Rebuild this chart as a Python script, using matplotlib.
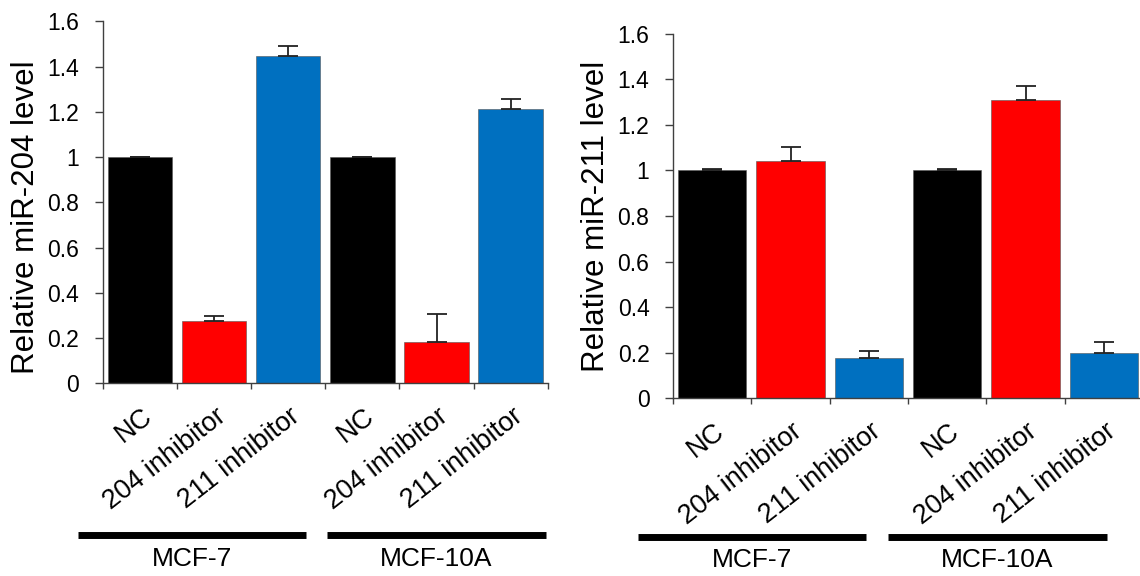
import numpy as np
import matplotlib
matplotlib.use("Agg")
import matplotlib.pyplot as plt
import matplotlib.transforms as mtransforms

plt.rcParams['font.family'] = ['Liberation Sans', 'DejaVu Sans']

# data
labels = ['NC', '204 inhibitor', '211 inhibitor', 'NC', '204 inhibitor', '211 inhibitor']
groups = ['MCF-7', 'MCF-10A']
bar_colors = ['#000000', '#FF0000', '#0070C0', '#000000', '#FF0000', '#0070C0']

mir204 = [1.0, 0.277, 1.448, 1.0, 0.184, 1.211]
mir204_err = [0.0, 0.022, 0.044, 0.0, 0.121, 0.046]

mir211 = [1.0, 1.043, 0.176, 1.0, 1.310, 0.200]
mir211_err = [0.005, 0.058, 0.032, 0.005, 0.062, 0.047]

yticks = [0, 0.2, 0.4, 0.6, 0.8, 1, 1.2, 1.4, 1.6]
ytick_labels = ['0', '0.2', '0.4', '0.6', '0.8', '1', '1.2', '1.4', '1.6']

fig = plt.figure(figsize=(11.4, 5.76), dpi=100)
ax1 = fig.add_axes([0.0901, 0.3345, 0.3904, 0.6285])
ax2 = fig.add_axes([0.5904, 0.3085, 0.4123, 0.633])


def draw_panel(ax, vals, errs, ylabel, label_xy, group_spans, line_y, label_y):
    x = np.arange(len(vals))
    lower = np.zeros(len(errs))
    ax.bar(x, vals, width=0.87, color=bar_colors, edgecolor='#555555',
           linewidth=0.4, zorder=2)
    ax.errorbar(x, vals, yerr=[lower, errs], fmt='none', ecolor='#222222',
                elinewidth=1.3, capsize=7, capthick=1.3, zorder=3)
    ax.set_xlim(-0.5, len(vals) - 0.5)
    ax.set_ylim(0, 1.6)
    ax.set_yticks(yticks)
    ax.set_yticklabels(ytick_labels, fontsize=16.5)
    ax.set_ylabel(ylabel, fontsize=22.5)
    ax.yaxis.set_label_coords(*label_xy)
    for s in ['top', 'right']:
        ax.spines[s].set_visible(False)
    for s in ['left', 'bottom']:
        ax.spines[s].set_color('#404040')
        ax.spines[s].set_linewidth(1.0)
    ax.tick_params(axis='y', length=6, width=1.0, color='#404040', pad=11)
    # ticks at category boundaries, labels at centres
    ax.set_xticks(np.arange(len(vals) + 1) - 0.5)
    ax.set_xticklabels([])
    ax.tick_params(axis='x', which='major', length=4, width=1.0, color='#404040')
    ax.set_xticks(x, minor=True)
    ax.set_xticklabels(labels, minor=True, fontsize=19.5, rotation=38,
                       ha='right', va='center', rotation_mode='anchor')
    ax.tick_params(axis='x', which='minor', length=0, pad=22)
    shift = mtransforms.ScaledTranslation(9 / 100, 0, fig.dpi_scale_trans)
    for t in ax.get_xticklabels(minor=True):
        t.set_transform(t.get_transform() + shift)

    trans = mtransforms.blended_transform_factory(ax.transData, ax.transAxes)
    for (x0, x1), name in zip(group_spans, groups):
        ax.plot([x0, x1], [line_y, line_y], color='black', lw=5,
                transform=trans, clip_on=False, solid_capstyle='butt')
        ax.text((x0 + x1) / 2, label_y, name, transform=trans, fontsize=19,
                ha='center', va='center')


draw_panel(ax1, mir204, mir204_err, 'Relative miR-204 level', (-0.139, 0.458),
           [(-0.83, 2.24), (2.52, 5.47)], -0.419, -0.485)
draw_panel(ax2, mir211, mir211_err, 'Relative miR-211 level', (-0.132, 0.5),
           [(-0.95, 1.965), (2.24, 5.04)], -0.381, -0.443)

fig.savefig('out.png', dpi=100)
